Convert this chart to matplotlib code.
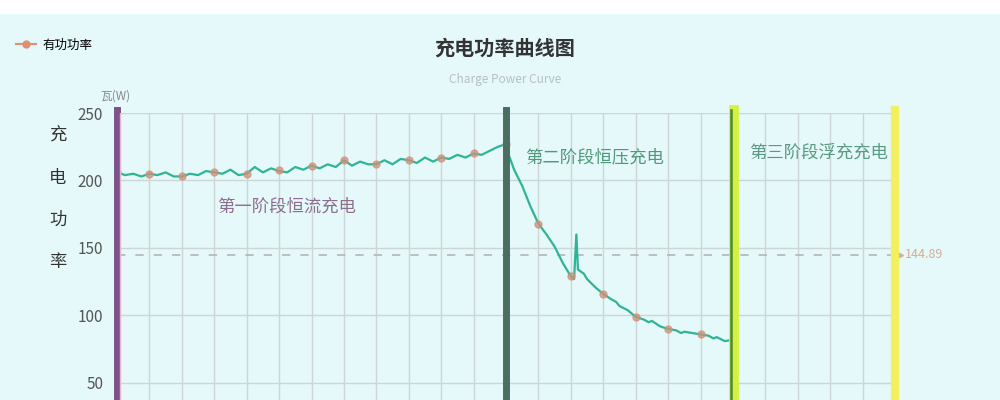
import matplotlib
matplotlib.use("Agg")
import matplotlib.pyplot as plt
from matplotlib.lines import Line2D
from matplotlib.patches import Rectangle

plt.rcParams['font.family'] = ['Noto Sans CJK SC', 'DejaVu Sans']

# ---- data ----
stage1_x = [i * 0.25 for i in range(49)]
stage1_y = [206, 204, 205, 203,
            205, 204, 206, 203,
            203, 205, 204, 207,
            206, 205, 208, 204,
            205, 210, 206, 209,
            207, 206, 210, 208,
            211, 209, 212, 210,
            215, 211, 214, 212,
            212, 215, 212, 216,
            215, 213, 217, 214,
            217, 216, 219, 217,
            220, 219, 222, 225,
            227]
stage2_x = [12.1, 12.25, 12.5, 12.75, 13.0, 13.25, 13.5, 13.75, 14.0, 14.1, 14.17, 14.22,
            14.4, 14.5, 14.75, 15.0, 15.25, 15.4, 15.5, 15.75, 16.0, 16.25, 16.4, 16.5,
            16.75, 17.0, 17.25, 17.4, 17.5, 17.75, 18.0, 18.25, 18.4, 18.5, 18.75, 19.0]
stage2_y = [218, 208, 196, 181, 168, 160, 151, 139, 129, 127, 160, 134,
            131, 127, 121, 116, 112, 110, 107, 104, 99, 97, 95, 96,
            92, 90, 89, 87, 88, 87, 86, 85, 83, 84, 81, 82]
marker_x = [0, 1, 2, 3, 4, 5, 6, 7, 8, 9, 10, 11, 12, 13, 14, 15, 16, 17, 18]
marker_y = [206, 205, 203.5, 206, 205, 207.5, 211, 215, 212.5, 215, 217, 220, 227,
            168, 129, 116, 99, 90, 86]
mean_value = 144.89
phase_x = [0, 12, 19, 24]
phase_labels = ['第一阶段恒流充电', '第二阶段恒压充电', '第三阶段浮充充电']
phase_label_pos = [(3.1, 181), (12.6, 217), (19.5, 221)]
yticks = [50, 100, 150, 200, 250]

bg = '#e5f8fa'
fig = plt.figure(figsize=(10, 4), dpi=100, facecolor=bg)
fig.patches.append(Rectangle((0, 0.965), 1, 0.035, transform=fig.transFigure,
                             facecolor='white', edgecolor='none', zorder=0))

ax = fig.add_axes([0.117, 0.0, 0.778, 0.7175])
ax.set_facecolor(bg)
ax.set_xlim(0, 24)
ax.set_ylim(37.4, 250)
for s in ax.spines.values():
    s.set_visible(False)
ax.set_xticks(range(0, 25))
ax.set_yticks(yticks)
ax.tick_params(axis='x', length=0, labelbottom=False)
ax.tick_params(axis='y', length=0, labelsize=11, labelcolor='#555555', pad=10)
ax.grid(True, color='#cdd6d6', linewidth=1.0)
ax.set_axisbelow(True)

# mean line
ax.axhline(mean_value, color='#b5b5b5', linestyle=(0, (5, 6)), linewidth=1.2, zorder=1)
ax.plot([24.15], [mean_value], marker='>', color='#d8b090', markersize=4, clip_on=False)
ax.text(24.3, mean_value, '144.89', color='#d4ae90', fontsize=9, va='center', ha='left')

# data line
xs = stage1_x + stage2_x
ys = stage1_y + stage2_y
ax.plot(xs, ys, color='#2db596', linewidth=1.6, zorder=3)
ax.plot(marker_x, marker_y, linestyle='none', marker='o', markersize=5,
        color='#d09078', alpha=0.75, zorder=4)

# phase lines
ax.axvline(phase_x[0], color='#7b528a', linewidth=5, zorder=5, ymax=1.01, clip_on=False)
ax.axvline(phase_x[0] + 0.1, color='#e8b4d0', linewidth=1, zorder=5)
ax.axvline(phase_x[1], color='#4a6e60', linewidth=5, zorder=5, ymax=1.01, clip_on=False)
ax.axvline(phase_x[2] + 0.03, color='#d4f040', linewidth=7, zorder=5, ymax=1.01, clip_on=False)
ax.axvline(phase_x[2] - 0.06, color='#4d8a2a', linewidth=1.8, zorder=6, ymax=1.01, clip_on=False)
ax.axvline(phase_x[3], color='#f2f060', linewidth=6, zorder=5, ymax=1.01, clip_on=False)

label_colors = ['#8e6e8e', '#4e9a7a', '#5a9a82']
for lbl, (px, py), c in zip(phase_labels, phase_label_pos, label_colors):
    ax.text(px, py, lbl, color=c, fontsize=12.5, va='center', ha='left')

# axis labels
for i, ch in enumerate('充电功率'):
    fig.text(0.058, 1 - (136 + i * 42) / 400, ch, fontsize=12.5, color='#333333',
             fontweight='medium', ha='center', va='center')
fig.text(0.115, 1 - 96 / 400, '瓦(W)', fontsize=8.5, color='#888888', ha='center', va='center')

# title
fig.text(0.505, 1 - 48 / 400, '充电功率曲线图', fontsize=14.5, fontweight='bold',
         color='#333333', ha='center', va='center')
fig.text(0.505, 1 - 80 / 400, 'Charge Power Curve', fontsize=8.5, color='#b8c0c0',
         ha='center', va='center')

# legend
leg_handle = Line2D([], [], color='#e09070', marker='o', markersize=5, linewidth=1.5)
fig.legend([leg_handle], ['有功功率'], loc='center left', bbox_to_anchor=(0.005, 1 - 45 / 400),
           frameon=False, fontsize=9, handlelength=1.6, handletextpad=0.5)

fig.savefig('out.png', dpi=100, facecolor=bg)
